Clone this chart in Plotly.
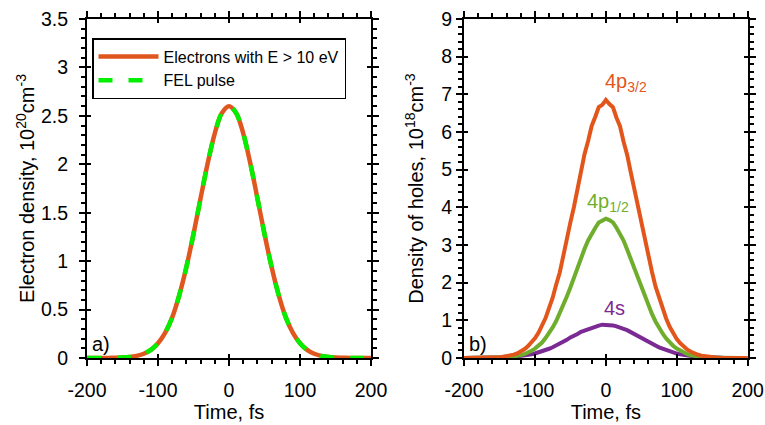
import plotly.graph_objects as go

# ---------------- data ----------------
t_left = [-200, -190, -180, -170, -160, -150, -140, -130, -120, -110, -100, -90, -80, -70, -60, -50, -40, -30, -20, -10,
          0, 10, 20, 30, 40, 50, 60, 70, 80, 90, 100, 110, 120, 130, 140, 150, 160, 170, 180, 190, 200]
electrons = [0, 0, 0, 0.001, 0.002, 0.004, 0.010, 0.022, 0.044, 0.084, 0.153, 0.26, 0.42, 0.65, 0.94, 1.28, 1.65, 2.01, 2.32, 2.53,
             2.60, 2.53, 2.32, 2.01, 1.65, 1.28, 0.94, 0.65, 0.42, 0.26, 0.153, 0.084, 0.044, 0.022, 0.010, 0.004, 0.002, 0.001, 0, 0, 0]
fel_pulse = [0, 0, 0, 0.001, 0.002, 0.004, 0.010, 0.022, 0.044, 0.084, 0.153, 0.26, 0.42, 0.65, 0.94, 1.28, 1.65, 2.01, 2.32, 2.53,
             2.60, 2.53, 2.32, 2.01, 1.65, 1.28, 0.94, 0.65, 0.42, 0.26, 0.153, 0.084, 0.044, 0.022, 0.010, 0.004, 0.002, 0.001, 0, 0, 0]

t_right = [-200, -195, -190, -185, -180, -175, -170, -165, -160, -155,
           -150, -145, -140, -135, -130, -125, -120, -115, -110, -105,
           -100, -95, -90, -85, -80, -75, -70, -65, -60, -55,
           -50, -45, -40, -35, -30, -25, -20, -15, -10, -5,
           0,
           5, 10, 15, 20, 25, 30, 35, 40, 45, 50,
           55, 60, 65, 70, 75, 80, 85, 90, 95, 100,
           105, 110, 115, 120, 125, 130, 135, 140, 145, 150,
           155, 160, 165, 170, 175, 180, 185, 190, 195, 200]
holes_4p32 = [0, 0, 0, 0, 0.001, 0.002, 0.004, 0.006, 0.009, 0.013,
              0.021, 0.031, 0.044, 0.063, 0.088, 0.12, 0.17, 0.23, 0.31, 0.40,
              0.52, 0.67, 0.86, 1.06, 1.33, 1.60, 1.95, 2.27, 2.71, 3.10,
              3.60, 4.01, 4.53, 4.93, 5.42, 5.76, 6.16, 6.40, 6.66, 6.72,
              6.85,
              6.74, 6.66, 6.38, 6.15, 5.74, 5.40, 4.94, 4.48, 4.05, 3.55,
              3.12, 2.66, 2.29, 1.90, 1.60, 1.29, 1.05, 0.83, 0.66, 0.50,
              0.39, 0.30, 0.22, 0.165, 0.12, 0.086, 0.061, 0.043, 0.030, 0.020,
              0.013, 0.009, 0.006, 0.004, 0.002, 0.001, 0, 0, 0, 0]
holes_4p12 = [0, 0, 0, 0, 0, 0, 0.001, 0.002, 0.003, 0.005,
              0.008, 0.012, 0.018, 0.027, 0.038, 0.054, 0.076, 0.10, 0.14, 0.19,
              0.25, 0.32, 0.41, 0.53, 0.65, 0.81, 0.98, 1.18, 1.39, 1.63,
              1.87, 2.14, 2.40, 2.65, 2.90, 3.12, 3.31, 3.45, 3.60, 3.64,
              3.70,
              3.66, 3.60, 3.46, 3.28, 3.12, 2.88, 2.63, 2.38, 2.13, 1.86,
              1.62, 1.38, 1.17, 0.97, 0.80, 0.65, 0.52, 0.41, 0.32, 0.25,
              0.19, 0.14, 0.10, 0.075, 0.054, 0.038, 0.027, 0.018, 0.012, 0.008,
              0.005, 0.003, 0.002, 0.001, 0, 0, 0, 0, 0, 0]
holes_4s = [0, 0, 0, 0, 0.001, 0.002, 0.003, 0.004, 0.005, 0.007,
            0.010, 0.013, 0.017, 0.023, 0.030, 0.039, 0.049, 0.062, 0.078, 0.097,
            0.119, 0.145, 0.174, 0.207, 0.245, 0.286, 0.330, 0.378, 0.428, 0.481,
            0.545, 0.580, 0.639, 0.695, 0.730, 0.780, 0.812, 0.845, 0.860, 0.885,
            0.88,
            0.874, 0.866, 0.838, 0.815, 0.772, 0.738, 0.684, 0.642, 0.583, 0.536,
            0.478, 0.430, 0.375, 0.332, 0.284, 0.246, 0.205, 0.175, 0.144, 0.119,
            0.097, 0.078, 0.062, 0.049, 0.039, 0.030, 0.023, 0.017, 0.013, 0.010,
            0.007, 0.005, 0.004, 0.003, 0.002, 0.001, 0, 0, 0, 0]

x_range = [-200, 200]
x_ticks = [-200, -100, 0, 100, 200]
x_ticktext = ["-200", "-100", "0", "100", "200"]
y_left_range = [0, 3.5]
y_left_ticks = [0, 0.5, 1, 1.5, 2, 2.5, 3, 3.5]
y_left_ticktext = ["0", "0.5", "1", "1.5", "2", "2.5", "3", "3.5"]
y_right_range = [0, 9]
y_right_ticks = [0, 1, 2, 3, 4, 5, 6, 7, 8, 9]
y_right_ticktext = ["0", "1", "2", "3", "4", "5", "6", "7", "8", "9"]

# ---------------- style ----------------
FONT = "Liberation Sans, Arial, sans-serif"
ORANGE_L = "#E0561F"
GREEN_L = "#00F000"
ORANGE = "#E2561C"
GREEN = "#6FAE2D"
PURPLE = "#7B2A93"

fig = go.Figure()

fig.add_trace(go.Scatter(x=t_left, y=electrons, mode="lines", name="Electrons with E > 10 eV",
                         line=dict(color=ORANGE_L, width=4.5, shape="spline"), xaxis="x", yaxis="y"))
fig.add_trace(go.Scatter(x=t_left, y=fel_pulse, mode="lines", name="FEL pulse",
                         line=dict(color=GREEN_L, width=4.5, dash="14px,16px", shape="spline"), xaxis="x", yaxis="y"))

fig.add_trace(go.Scatter(x=t_right, y=holes_4s, mode="lines", showlegend=False,
                         line=dict(color=PURPLE, width=4), xaxis="x2", yaxis="y2"))
fig.add_trace(go.Scatter(x=t_right, y=holes_4p12, mode="lines", showlegend=False,
                         line=dict(color=GREEN, width=4), xaxis="x2", yaxis="y2"))
fig.add_trace(go.Scatter(x=t_right, y=holes_4p32, mode="lines", showlegend=False,
                         line=dict(color=ORANGE, width=4), xaxis="x2", yaxis="y2"))

# empty traces so overlay axes (inner half of crossing major ticks) are drawn
fig.add_trace(go.Scatter(x=[], y=[], showlegend=False, xaxis="x3", yaxis="y3"))
fig.add_trace(go.Scatter(x=[], y=[], showlegend=False, xaxis="x4", yaxis="y4"))

xd1 = [87 / 765, 371 / 765]
xd2 = [464 / 765, 747.7 / 765]
yd = [(425 - 358) / 425, (425 - 19) / 425]

tickfont = dict(family=FONT, size=19.5, color="black")
titlefont = dict(family=FONT, size=20, color="black")


def main_axis(rng, ticks, ticktext, minor_dt, standoff, title, tstand, domain, anchor):
    return dict(range=rng, domain=domain, anchor=anchor, tickmode="array", tickvals=ticks, ticktext=ticktext,
                ticks="outside", ticklen=6, tickwidth=1.5, tickcolor="black",
                minor=dict(dtick=minor_dt, tick0=0, ticks="outside", ticklen=4, tickwidth=1.5, tickcolor="black", showgrid=False),
                showline=True, linecolor="black", linewidth=2, mirror="ticks",
                showgrid=False, zeroline=False, tickfont=tickfont, ticklabelstandoff=standoff,
                automargin=False,
                title=dict(text=title, font=titlefont, standoff=tstand), fixedrange=True)


def inner_axis(rng, ticks, overlay, anchor):
    return dict(range=rng, overlaying=overlay, anchor=anchor, tickmode="array", tickvals=ticks,
                ticks="inside", ticklen=4, tickwidth=1.5, tickcolor="black", mirror="ticks",
                automargin=False,
                showline=False, showgrid=False, zeroline=False, showticklabels=False)


fig.update_layout(
    width=765, height=425,
    margin=dict(l=0, r=0, t=0, b=0, autoexpand=False),
    paper_bgcolor="white", plot_bgcolor="white",
    font=dict(family=FONT, color="black"),
    xaxis=main_axis(x_range, x_ticks, x_ticktext, 20, 8, "Time, fs", 4, xd1, "y"),
    yaxis=main_axis(y_left_range, y_left_ticks, y_left_ticktext, 0.1, 7,
                    "Electron density, 10<sup>20</sup>cm<sup>-3</sup>", 1, yd, "x"),
    xaxis2=main_axis(x_range, x_ticks, x_ticktext, 20, 8, "Time, fs", 4, xd2, "y2"),
    yaxis2=main_axis(y_right_range, y_right_ticks, y_right_ticktext, 0.2, 0,
                     "Density of holes, 10<sup>18</sup>cm<sup>-3</sup>", 12, yd, "x2"),
    xaxis3=inner_axis(x_range, x_ticks, "x", "y3"),
    yaxis3=inner_axis(y_left_range, y_left_ticks, "y", "x3"),
    xaxis4=inner_axis(x_range, x_ticks, "x2", "y4"),
    yaxis4=inner_axis(y_right_range, y_right_ticks, "y2", "x4"),
    legend=dict(x=92 / 765, y=1 - 38 / 425, xanchor="left", yanchor="top",
                bgcolor="white", bordercolor="black", borderwidth=1.5,
                font=dict(family=FONT, size=16, color="black"), itemwidth=60,
                tracegroupgap=0),
    showlegend=True,
)

fig.add_annotation(x=-200, y=0, xref="x", yref="y", text="a)", showarrow=False,
                   xanchor="left", yanchor="bottom", xshift=3, yshift=1,
                   font=dict(family=FONT, size=20, color="black"))
fig.add_annotation(x=-200, y=0, xref="x2", yref="y2", text="b)", showarrow=False,
                   xanchor="left", yanchor="bottom", xshift=3, yshift=1,
                   font=dict(family=FONT, size=20, color="black"))

fig.add_annotation(x=-4, y=6.93, xref="x2", yref="y2", text="4p<sub>3/2</sub>", showarrow=False,
                   xanchor="left", yanchor="bottom", font=dict(family=FONT, size=20, color=ORANGE))
fig.add_annotation(x=-30, y=3.74, xref="x2", yref="y2", text="4p<sub>1/2</sub>", showarrow=False,
                   xanchor="left", yanchor="bottom", font=dict(family=FONT, size=20, color=GREEN))
fig.add_annotation(x=-6, y=0.98, xref="x2", yref="y2", text="4s", showarrow=False,
                   xanchor="left", yanchor="bottom", font=dict(family=FONT, size=20, color=PURPLE))

fig.write_html("out.html", config={"displayModeBar": False},
               post_script="document.body.style.margin='0px';")
